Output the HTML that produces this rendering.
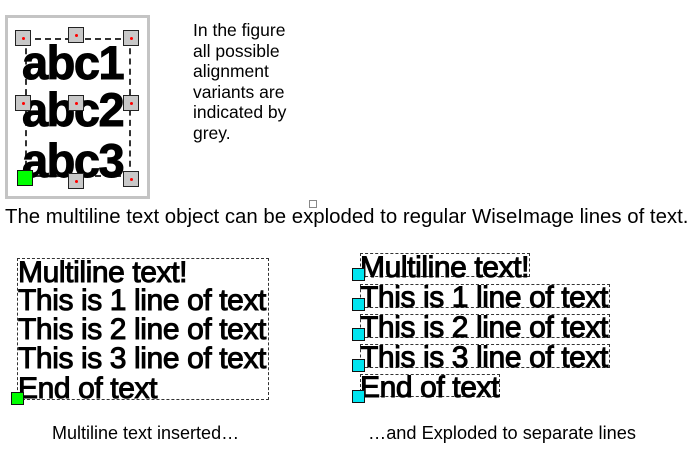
<!DOCTYPE html>
<html><head><style>
body{margin:0;width:693px;height:463px;background:#fff;position:relative;overflow:hidden;font-family:"Liberation Sans",Arial,sans-serif;color:#000}
.a{position:absolute;white-space:nowrap}
.h{position:absolute;width:16px;height:16px;background:#c8c8c8;border:1px solid #222;box-sizing:border-box}
.h::after{content:"";position:absolute;left:6px;top:6px;width:3px;height:3px;background:#f00;border-radius:50%}
.abc{position:absolute;font-weight:bold;font-size:47px;letter-spacing:-1.5px;line-height:46px;left:22px;-webkit-text-stroke:1px #000}
.t{position:absolute;font-size:30px;line-height:28px;-webkit-text-stroke:1px #000;letter-spacing:-0.4px}
.c{position:absolute;width:13px;height:13px;background:#00e5f0;border:1px solid #111;box-sizing:border-box}
.lb{position:absolute;border:1px dashed #333;box-sizing:border-box}
</style></head><body>
<div style="position:absolute;left:5px;top:15px;width:145px;height:184px;border:3px solid #c4c4c4;box-sizing:border-box"></div>
<div class="lb" style="left:25px;top:38px;width:106px;height:139px;border-width:2px"></div>
<div class="abc" style="top:40px">abc1</div>
<div class="abc" style="top:87px">abc2</div>
<div class="abc" style="top:138px">abc3</div>
<div class="h" style="left:15px;top:30px"></div>
<div class="h" style="left:68px;top:27px"></div>
<div class="h" style="left:123px;top:30px"></div>
<div class="h" style="left:15px;top:95px"></div>
<div class="h" style="left:68px;top:95px"></div>
<div class="h" style="left:123px;top:95px"></div>
<div style="position:absolute;left:17px;top:170px;width:16px;height:16px;background:#0f0;border:1px solid #111;box-sizing:border-box"></div>
<div class="h" style="left:68px;top:173px"></div>
<div class="h" style="left:123px;top:171px"></div>
<div class="a" style="left:193px;top:20px;font-size:17.5px;line-height:20.6px">In the figure<br>all possible<br>alignment<br>variants are<br>indicated by<br>grey.</div>
<div style="position:absolute;left:309px;top:200px;width:8px;height:8px;border:1px solid #888;box-sizing:border-box"></div>
<div class="a" style="left:5px;top:204px;font-size:20.4px;line-height:26px">The multiline text object can be exploded to regular WiseImage lines of text.</div>

<div class="lb" style="left:17px;top:258px;width:252px;height:142px"></div>
<div class="t" style="left:18px;top:259px">Multiline text!</div>
<div class="t" style="left:18px;top:287px">This is 1 line of text</div>
<div class="t" style="left:18px;top:316px">This is 2 line of text</div>
<div class="t" style="left:18px;top:345px">This is 3 line of text</div>
<div class="t" style="left:18px;top:375px">End of text</div>
<div style="position:absolute;left:11px;top:392px;width:13px;height:13px;background:#0f0;border:1px solid #111;box-sizing:border-box"></div>

<div class="lb" style="left:360px;top:253px;width:170px;height:24px"></div>
<div class="lb" style="left:360px;top:284px;width:250px;height:24px"></div>
<div class="lb" style="left:360px;top:314px;width:250px;height:24px"></div>
<div class="lb" style="left:360px;top:344px;width:250px;height:24px"></div>
<div class="lb" style="left:360px;top:374px;width:140px;height:23px"></div>
<div class="t" style="left:360px;top:254px">Multiline text!</div>
<div class="t" style="left:360px;top:284px">This is 1 line of text</div>
<div class="t" style="left:360px;top:314px">This is 2 line of text</div>
<div class="t" style="left:360px;top:344px">This is 3 line of text</div>
<div class="t" style="left:360px;top:374px">End of text</div>
<div class="c" style="left:352px;top:268px"></div>
<div class="c" style="left:352px;top:298px"></div>
<div class="c" style="left:352px;top:328px"></div>
<div class="c" style="left:352px;top:359px"></div>
<div class="c" style="left:352px;top:390px"></div>

<div class="a" style="left:52px;top:422px;font-size:18px;line-height:22px">Multiline text inserted…</div>
<div class="a" style="left:368px;top:422px;font-size:18.2px;line-height:22px">…and Exploded to separate lines</div>
</body></html>
